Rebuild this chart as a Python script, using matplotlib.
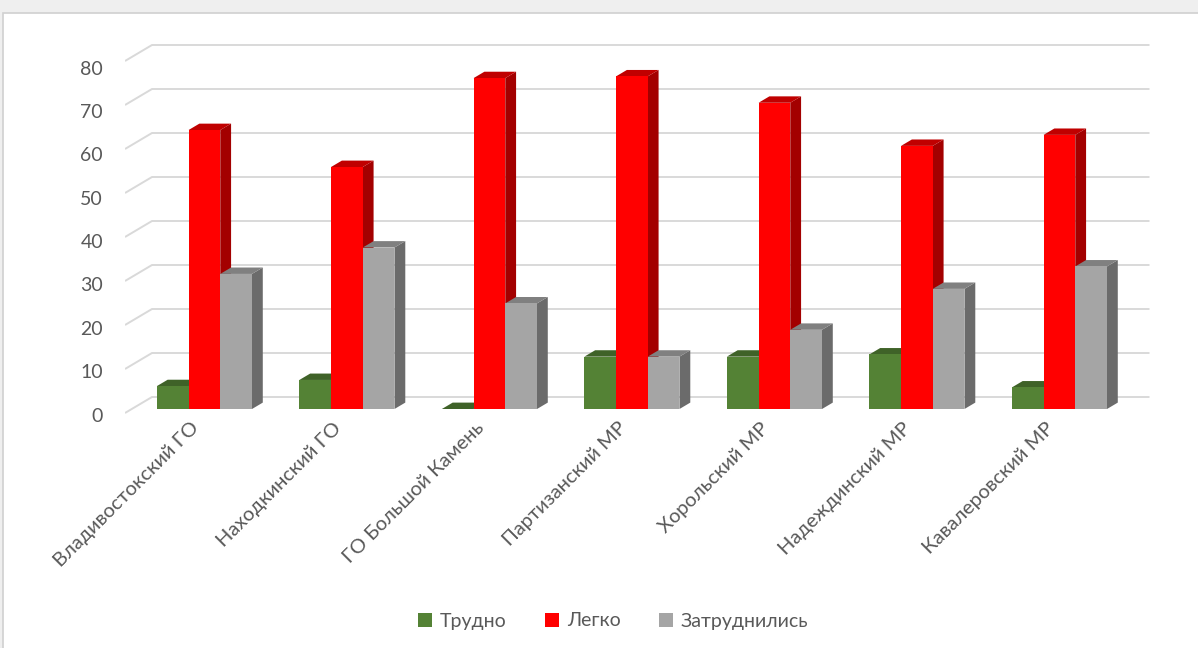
import matplotlib
matplotlib.use('Agg')
import matplotlib.pyplot as plt
from matplotlib.patches import Polygon, Rectangle, Patch

categories = ["Владивостокский ГО", "Находкинский ГО", "ГО Большой Камень",
              "Партизанский МР", "Хорольский МР", "Надеждинский МР", "Кавалеровский МР"]
series_names = ["Трудно", "Легко", "Затруднились"]
trudno = [5.2, 6.6, 0.0, 11.9, 11.9, 12.4, 4.9]
legko = [63.4, 55.0, 75.2, 75.6, 69.6, 59.8, 62.3]
zatrud = [30.7, 36.7, 24.0, 11.9, 18.0, 27.3, 32.4]
yticks = [0, 10, 20, 30, 40, 50, 60, 70, 80]

front_colors = ['#548235', '#ff0000', '#a5a5a5']
top_colors = ['#3f6228', '#c00000', '#808080']
side_colors = ['#2f4a1e', '#a30000', '#6b6b6b']

FONT = 'Lato'
TXT = '#595959'

W, H = 1198, 648
fig = plt.figure(figsize=(W / 100, H / 100), dpi=100)
fig.patches.append(Rectangle((0, 0), 1, 1, transform=fig.transFigure,
                             facecolor='#efefef', edgecolor='none', zorder=-10))
fig.patches.append(Rectangle((3 / W, -0.01), 1.0, (H - 13) / H + 0.01, transform=fig.transFigure,
                             facecolor='white', edgecolor='#d0d0d0', lw=1.2, zorder=-9))

px_x = 142.5
px_y = 4.4
x0_px, y0_px = 125, 413
xmax, ymin, ymax = 7.25, -2, 86
ax = fig.add_axes([x0_px / W, (H - (y0_px - ymin * px_y)) / H,
                   px_x * xmax / W, (ymax - ymin) * px_y / H])
ax.set_xlim(0, xmax)
ax.set_ylim(ymin, ymax)
ax.axis('off')

DX = 27 / px_x
DY = 16 / px_y


def p(x, y, d):
    return (x + d * DX, y + d * DY)


n = len(categories)
# back wall gridlines + left diagonal
for v in yticks:
    pts = [p(0, v, 0), p(0, v, 1), p(n, v, 1)]
    ax.plot([q[0] for q in pts], [q[1] for q in pts], color='#d9d9d9', lw=1.4,
            zorder=1, solid_capstyle='butt')
    ax.text(-0.155, v * 0.986 - 0.7, str(v), ha='right', va='center', fontsize=14,
            color=TXT, family=FONT)

series = [trudno, legko, zatrud]
bw = 0.2225
d0, d1 = 0.25, 0.65
shift = 0.01
z = 2
for i in range(n):
    for s, vals in enumerate(series):
        v = vals[i]
        xl = i + 0.5 - 1.5 * bw + s * bw + shift
        xr = xl + bw
        side = [p(xr, 0, d0), p(xr, v, d0), p(xr, v, d1), p(xr, 0, d1)]
        top = [p(xl, v, d0), p(xr, v, d0), p(xr, v, d1), p(xl, v, d1)]
        front = [p(xl, 0, d0), p(xr, 0, d0), p(xr, v, d0), p(xl, v, d0)]
        ax.add_patch(Polygon(side, closed=True, facecolor=side_colors[s], edgecolor='none', zorder=z))
        ax.add_patch(Polygon(top, closed=True, facecolor=top_colors[s], edgecolor='none', zorder=z))
        ax.add_patch(Polygon(front, closed=True, facecolor=front_colors[s], edgecolor='none', zorder=z + 0.5))
        z += 1
    cx, cy = p(i + 0.5 + 0.0, -2.8, 0)
    ax.text(cx, cy, categories[i], rotation=45, rotation_mode='anchor',
            ha='right', va='center', fontsize=14.5, color=TXT, family=FONT, clip_on=False)

handles = [Patch(facecolor=c, edgecolor='none') for c in front_colors]
fig.legend(handles, series_names, loc='center', bbox_to_anchor=(0.512, 1 - 621 / H),
           ncol=3, frameon=False, handlelength=0.7, handleheight=0.7,
           columnspacing=2.0, handletextpad=0.4,
           prop={'family': FONT, 'size': 14}, labelcolor=TXT)

fig.savefig('out.png', dpi=100)
